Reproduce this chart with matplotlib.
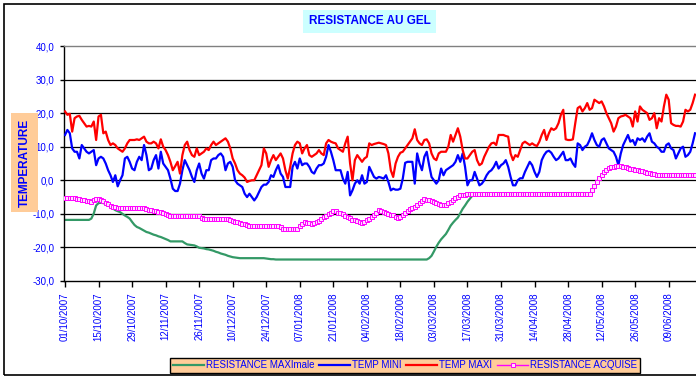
import numpy as np
import pandas as pd
import matplotlib
matplotlib.use("Agg")
import matplotlib.pyplot as plt
import matplotlib.dates as mdates
from matplotlib.ticker import FuncFormatter
from matplotlib.patches import Rectangle

plt.rcParams['font.family'] = ['Liberation Sans', 'DejaVu Sans']

# daily values starting 01/10/2007
start = "2007-10-01"

temp_maxi = [
    20.5, 19.5, 19.8, 14.5, 18.5, 19, 19.2, 18, 17, 16,
    16.2, 16, 17.5, 12, 19, 19.5, 14, 14.5, 12, 10.5,
    11, 10.5, 9.5, 9, 8.5, 9.5, 11, 12, 12, 12,
    12.2, 12, 12.5, 13, 11.5, 11, 11, 11.5, 11, 9.5,
    12.2, 10, 9, 7.5, 5.5, 3, 4.2, 5.5, 2, 7.5,
    10.5, 11.5, 9, 7.5, 7, 9.5, 7.5, 8, 8.5, 9.5,
    9, 10.5, 11.5, 10.5, 11, 11.5, 12, 12.5, 11.5, 9.5,
    6.5, 5, 3, 2, 1.5, 0.8, -0.5, -0.2, 0, 0,
    1.5, 3, 4.5, 9.5, 8, 4, 6, 7.5, 6, 7,
    8, 6.5, 3, 0.5, 4, 8, 10.5, 11.5, 11, 8,
    9.5, 10.5, 7.5, 7, 7.5, 8, 9, 8, 7.5, 11,
    12, 11.5, 11.2, 11, 9.5, 9, 8.5, 11, 13, 5,
    0, 6, 7.5, 6.5, 5.5, 6.5, 7, 11, 10.5, 10.8,
    11, 11.2, 11, 10.8, 10.5, 8, 3, 1, 5, 7,
    8.2, 8.5, 9.5, 10.5, 11.5, 12.5, 15.2, 12, 11, 10.5,
    12, 12.2, 11, 8, 6.5, 6, 8, 8.5, 8.5, 8.5,
    10, 13.5, 11.5, 13.5, 15.5, 13, 9, 6.5, 6.5, 7.5,
    8.5, 9, 6, 4.5, 5, 7, 8.5, 10, 11, 11.2,
    10.5, 13.5, 13.5, 13.5, 13.2, 13, 8, 6, 7.5, 7,
    9, 11, 11.5, 11, 10.5, 11, 10.5, 10.2, 11.5, 13.5,
    15, 12, 14, 15.5, 15, 15.5, 17, 19.5, 21, 12.2,
    12, 12, 12.2, 17, 21.5, 22, 20.5, 21.5, 23, 21,
    21.5, 24, 23.5, 23, 23.5, 22, 20, 18.5, 17, 14.5,
    16, 18.5, 19, 19.2, 19.5, 19, 18.5, 16, 20.5, 17.5,
    22, 21, 20.5, 20, 18, 18.5, 20, 15.5, 18.5, 17.5,
    22, 25.5, 24, 17, 16.5, 16.2, 16.2, 16, 17.5, 21,
    20.5, 21, 23, 25.5,
]

temp_mini = [
    13.5, 15, 14, 9.5, 8.5, 8.5, 6.5, 10.5, 9.5, 8.5,
    8, 8.5, 9, 4.5, 6.5, 7, 6.5, 5, 3, 1.5,
    -0.5, 1.5, -1.8, 0, 1.5, 6.5, 7, 5.5, 3.5, 3,
    5.5, 7, 6, 10.5, 7.5, 3, 3.5, 6, 7.5, 3.5,
    8.5, 5, 4, 3, 0.5, -2.5, -3.2, -3.2, -1, 3,
    6, 4.5, 3, 1, -0.5, 3, 5, 2, 0.5, 3,
    3, 6, 6.5, 6.5, 7.5, 8, 7, 3, 5, 5.5,
    4, 0, -1, -1.5, -2, -4, -5, -4, -5, -6,
    -5, -3.5, -2, -1.3, -1.3, -0.5, 1.5, 1, 3, 4.5,
    2, 1, -2, -2, -2, 4, 5.5, 3.5, 6.5, 4.5,
    5, 5, 4, 2.5, 2, 3.5, 4.5, 4.5, 5, 7,
    10.5, 8.5, 6, 3, 3, 3, 0.5, -1, 2.5, -4.5,
    -3, -1, 0, -1, 1.5, -1, -0.5, 4, 2.5, 1,
    0.5, 1, 0.8, 0.5, 1.5, -0.5, -3, -2.5, -2.8, -2.8,
    -2.5, 0.5, 5.2, 5.5, 5.5, 5.5, -1, 8, 5, 3,
    7, 8.5, 4.5, 1, 0, -1, 0, 3.5, 1.5, 3,
    3.5, 4, 4.5, 5.5, 7.5, 5.5, 8, 4, -1.5, 0,
    0, 2.5, 0.5, -1.5, -1, 0, 1.5, 2.5, 3, 4,
    5.5, 3.5, 4.5, 5, 6, 4, 1, -1.5, -1.5, 0,
    0.6, 0.6, 2.5, 4, 5.5, 4.5, 2.5, 1, 2.5, 6,
    7.5, 8.5, 8.8, 8.2, 7, 6, 6.5, 7.5, 8.5, 6,
    6, 6.5, 5, 4, 11, 10.5, 9, 10, 10.5, 12,
    14, 12, 10.5, 10, 12, 12.5, 11, 9.5, 9, 8.5,
    7, 4.5, 8, 10.5, 12, 13.5, 11.5, 12, 10.5, 12.5,
    12, 12.5, 11.5, 13, 14, 11.5, 11, 10, 9.5, 8.5,
    8.5, 10.5, 11, 9.5, 9, 6.5, 8, 9.5, 10, 7,
    7.5, 8.5, 11, 14,
]

resistance_maxi = (
    [-11.8] * 10 +
    [-11.8, -11.4, -9.9, -7.5, -6.8, -6.7, -6.8, -7.0, -7.4, -7.9,
     -8.4, -8.9, -9.2, -9.5, -10.0, -10.5, -10.9, -11.4, -12.4, -13.3,
     -13.9, -14.2, -14.6, -15.0, -15.4, -15.6, -15.9, -16.2, -16.4, -16.7,
     -16.9, -17.2, -17.5, -17.8, -18.2, -18.2, -18.2, -18.2, -18.2, -18.2,
     -18.7, -19.1, -19.2, -19.3, -19.4, -19.7, -20.1, -20.2, -20.3, -20.5,
     -20.6, -20.8, -21.0, -21.3, -21.5, -21.8, -22.0, -22.2, -22.5, -22.7,
     -22.9, -23.0, -23.1, -23.2, -23.2, -23.2, -23.2, -23.2, -23.2, -23.2,
     -23.2, -23.2, -23.2, -23.2, -23.3, -23.4, -23.5, -23.5, -23.6, -23.6] +
    [-23.6] * 62 +
    [-23.2, -22.5, -21.2, -19.8, -18.6, -17.6, -16.8, -16.0,
     -14.8, -13.5, -12.6, -11.8, -11.1, -9.8, -8.5, -7.5, -6.4, -5.5,
     -4.6] +
    [-4.1] * 49 +
    [-3.4, -2.0, -0.8, 0.4, 1.4, 2.3, 3.0, 3.6, 4.0, 4.1,
     4.2, 4.2, 4.2, 4.1, 4.0, 3.8, 3.6, 3.4, 3.3, 3.1,
     2.9, 2.8, 2.6, 2.4, 2.2, 2.0, 1.9, 1.8, 1.7]
)

resistance_acquise = (
    [-5.2, -5.2, -5.2, -5.2, -5.4, -5.5, -5.7, -5.8, -6.0, -6.1,
     -6.2, -6.4, -6.0, -5.6, -5.6, -5.9, -6.3, -6.8, -7.2, -7.6,
     -7.9, -8.0, -8.2, -8.2, -8.2, -8.2, -8.2, -8.2, -8.2, -8.2,
     -8.2, -8.2, -8.2, -8.4, -8.7, -8.9, -8.9, -9.1, -9.1, -9.3,
     -9.5, -9.7, -10.0, -10.3, -10.5, -10.7, -10.7, -10.7, -10.7, -10.7,
     -10.7, -10.7, -10.7, -10.7, -10.7, -10.7, -10.7, -11.1, -11.4, -11.4,
     -11.4, -11.4, -11.4, -11.4, -11.4, -11.4, -11.4, -11.4, -11.6, -11.9,
     -12.1, -12.3, -12.5, -12.7, -12.9, -13.1, -13.3, -13.5, -13.6, -13.6,
     -13.6, -13.6, -13.6, -13.6, -13.6, -13.6, -13.6, -13.6, -13.6, -13.6,
     -14.0, -14.4, -14.4, -14.4, -14.4, -14.4, -14.4, -14.4, -13.6, -13.1,
     -12.5, -12.6, -12.8, -12.9, -12.6, -12.4, -12.0, -11.5, -11.0, -10.6,
     -10.1, -9.6, -9.0, -9.2, -9.6, -9.8, -10.1, -10.5, -10.9, -11.3,
     -11.7, -11.9, -12.2, -12.4, -12.7, -12.3, -11.9, -11.5, -10.9, -10.3,
     -9.6, -8.9, -9.1, -9.4, -9.8, -10.1, -10.2, -10.4, -10.9, -11.3,
     -11.0, -10.4, -9.8, -9.1, -8.7, -8.2, -7.9, -7.3, -6.8, -6.2,
     -5.7, -5.8, -5.9, -6.2, -6.5, -6.8, -7.0, -7.3, -7.4, -7.4,
     -6.9, -6.4, -5.9, -5.4, -4.9, -4.4, -4.4, -4.4, -4.2, -4.1] +
    [-4.1] * 50 +
    [-3.0, -1.8, -0.5, 0.6, 1.6, 2.5, 3.2, 3.7, 4.0, 4.1,
     4.2, 4.2, 4.2, 4.1, 3.9, 3.7, 3.5, 3.3, 3.2, 3.0,
     2.8, 2.7, 2.5, 2.3, 2.1, 2.0, 1.8, 1.7, 1.6, 1.5] +
    [1.5] * 14
)

labels = ["RESISTANCE MAXImale", "TEMP MINI", "TEMP MAXI", "RESISTANCE ACQUISE"]

d_maxi = pd.date_range(start, periods=len(temp_maxi), freq="D")
d_mini = pd.date_range(start, periods=len(temp_mini), freq="D")
d_rmax = pd.date_range(start, periods=len(resistance_maxi), freq="D")
d_racq = pd.date_range(start, periods=len(resistance_acquise), freq="D")

W, H = 696, 380
fig = plt.figure(figsize=(W / 100, H / 100), dpi=100)
fig.patch.set_facecolor("white")

# chart area border (right edge is cut off in the reference)
fig.patches.append(Rectangle((4 / W, 1 - 375 / H), 1.2, (375 - 4) / H,
                             transform=fig.transFigure, fill=False,
                             edgecolor="black", linewidth=1.2, clip_on=False))

ax = fig.add_axes([64 / W, 1 - 281 / H, (W - 64) / W, 235 / H])
ax.set_facecolor("white")

blue_txt = "#0000FF"

for y in range(-20, 40, 10):
    ax.axhline(y, color="black", linewidth=0.9, zorder=1)

ax.plot(d_rmax, resistance_maxi, color="#339966", linewidth=1.6, zorder=2)
ax.plot(d_mini, temp_mini, color="#0000FF", linewidth=1.6, zorder=3)
ax.plot(d_maxi, temp_maxi, color="#FF0000", linewidth=1.6, zorder=4)
ax.plot(d_racq, resistance_acquise, color="#FF00FF", linewidth=1.0,
        marker="s", markersize=2.3, markerfacecolor="#FFE0FF",
        markeredgecolor="#FF00FF", markeredgewidth=0.7, zorder=5)

t0 = pd.Timestamp(start)
ax.set_xlim(t0 - pd.Timedelta(hours=10), t0 + pd.Timedelta(days=263.4))
ax.set_ylim(-30, 40)
ax.set_yticks(range(-30, 41, 10))
ax.yaxis.set_major_formatter(FuncFormatter(lambda v, p: f"{v:.1f}".replace(".", ",")))

xt = pd.date_range(start, "2008-06-20", freq="14D")
ax.set_xticks(xt)
ax.xaxis.set_major_formatter(mdates.DateFormatter("%d/%m/%Y"))
for lab in ax.get_xticklabels():
    lab.set_rotation(90)

ax.tick_params(axis="x", direction="out", length=4, width=1, pad=4,
               labelsize=7, labelcolor=blue_txt)
ax.tick_params(axis="y", direction="out", length=3, width=1, pad=4,
               labelsize=7, labelcolor=blue_txt)

ax.spines["left"].set_color("black")
ax.spines["bottom"].set_color("black")
ax.spines["top"].set_color("#808080")
ax.spines["right"].set_visible(False)
for s in ["left", "bottom", "top"]:
    ax.spines[s].set_linewidth(1.0)

# title box
fig.patches.append(Rectangle((303 / W, 1 - 33 / H), 133 / W, 23 / H,
                             transform=fig.transFigure, facecolor="#CCFFFF",
                             edgecolor="none"))
fig.text(369.5 / W, 1 - 21.5 / H, "RESISTANCE AU GEL", ha="center", va="center",
         fontsize=8.5, fontweight="bold", color=blue_txt)

# y axis title box
fig.patches.append(Rectangle((11 / W, 1 - 212 / H), 27 / W, 99 / H,
                             transform=fig.transFigure, facecolor="#FFCC99",
                             edgecolor="none"))
fig.text(24.5 / W, 1 - 162.5 / H, "TEMPERATURE", ha="center", va="center",
         rotation=90, fontsize=8.5, fontweight="bold", color=blue_txt)

handles = ax.get_lines()[-4:]
leg = fig.legend(handles, labels, loc="center", ncol=4,
                 bbox_to_anchor=(405 / W, 1 - 365.5 / H),
                 bbox_transform=fig.transFigure, fontsize=7,
                 frameon=True, fancybox=False, framealpha=1,
                 handlelength=3.2, handletextpad=0.2, columnspacing=0.5,
                 borderpad=0.3, borderaxespad=0)
leg.get_frame().set_facecolor("#FFCC99")
leg.get_frame().set_edgecolor("black")
leg.get_frame().set_linewidth(1.0)
for t in leg.get_texts():
    t.set_color(blue_txt)

fig.savefig("out.png", dpi=100)
